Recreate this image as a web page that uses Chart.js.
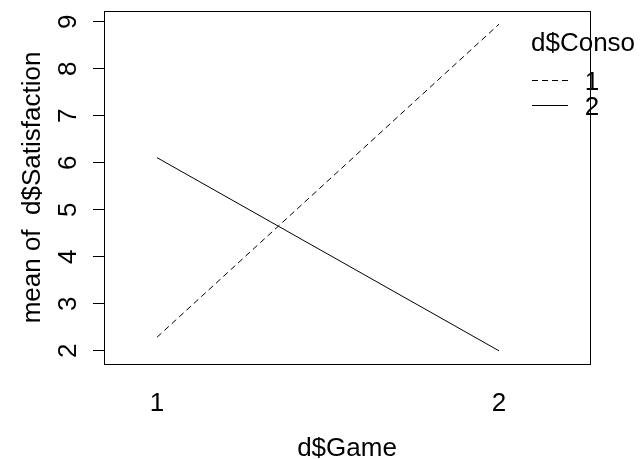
<!DOCTYPE html>
<html>
<head>
<meta charset="utf-8">
<script src="https://cdn.jsdelivr.net/npm/chart.js@4"></script>
<style>
  html, body { margin: 0; padding: 0; background: #fff; }
  #wrap { width: 641px; height: 459px; }
</style>
</head>
<body>
<div id="wrap"><canvas id="chart" width="641" height="459"></canvas></div>
<script>
// interaction plot: mean satisfaction by game, one trace per console
const gameLevels = [1, 2];
const consoleLevels = ['1', '2'];
const console1Means = [2.29, 8.95];
const console2Means = [6.11, 2.0];
const yTickValues = [2, 3, 4, 5, 6, 7, 8, 9];
const legendTitle = 'd$Conso';

const FONT = 'Liberation Sans, Arial, sans-serif';
const FSIZE = 26;

function toPoints(vals) {
    return gameLevels.map((g, i) => ({ x: g, y: vals[i] }));
}

// frame around the plot region, like R's box()
const boxPlugin = {
    id: 'box',
    afterDraw(chart) {
        const a = chart.chartArea;
        const ctx = chart.ctx;
        ctx.save();
        ctx.strokeStyle = '#000';
        ctx.lineWidth = 1;
        ctx.strokeRect(Math.round(a.left) + 0.5, Math.round(a.top) + 0.5,
            Math.round(a.right - a.left), Math.round(a.bottom - a.top));
        ctx.restore();
    }
};

// R style legend with trace label on top (drawn outside the plot, xpd=TRUE)
const traceLegend = {
    id: 'traceLegend',
    afterDraw(chart) {
        const ctx = chart.ctx;
        ctx.save();
        ctx.fillStyle = '#000';
        ctx.font = FSIZE + 'px ' + FONT;
        ctx.textBaseline = 'middle';
        ctx.textAlign = 'left';
        ctx.fillText(legendTitle, 531, 44);
        chart.data.datasets.forEach((ds, i) => {
            const y = 80 + i * 25;
            ctx.strokeStyle = '#000';
            ctx.lineWidth = 1;
            ctx.setLineDash(ds.borderDash || []);
            ctx.beginPath();
            ctx.moveTo(532, y + 0.5);
            ctx.lineTo(568, y + 0.5);
            ctx.stroke();
            ctx.setLineDash([]);
            ctx.textAlign = 'center';
            ctx.fillText(ds.label, 592, y + 3);
        });
        ctx.restore();
    }
};

function noPad(scale) {
    scale.paddingTop = 0;
    scale.paddingBottom = 0;
    scale.paddingLeft = 0;
    scale.paddingRight = 0;
}

new Chart(document.getElementById('chart'), {
    type: 'line',
    data: {
        datasets: [
            {
                label: consoleLevels[0],
                data: toPoints(console1Means),
                borderColor: '#000',
                borderWidth: 1,
                borderDash: [6, 4],
                pointRadius: 0,
                fill: false
            },
            {
                label: consoleLevels[1],
                data: toPoints(console2Means),
                borderColor: '#000',
                borderWidth: 1,
                pointRadius: 0,
                fill: false
            }
        ]
    },
    options: {
        responsive: false,
        animation: false,
        layout: { padding: { top: 11, right: 51, left: 0, bottom: 0 } },
        plugins: {
            legend: { display: false },
            tooltip: { enabled: false }
        },
        scales: {
            x: {
                type: 'linear',
                min: 0.845,
                max: 2.266,
                afterBuildTicks: scale => { scale.ticks = gameLevels.map(v => ({ value: v })); },
                afterFit: scale => { scale.height = 95; noPad(scale); },
                grid: { display: false, drawTicks: false },
                border: { display: false },
                ticks: {
                    color: '#000',
                    font: { family: FONT, size: FSIZE },
                    padding: 24,
                    maxRotation: 0,
                    autoSkip: false
                },
                title: {
                    display: true,
                    text: 'd$Game',
                    color: '#000',
                    font: { family: FONT, size: FSIZE, lineHeight: 1 },
                    padding: { top: 0, bottom: -3 }
                }
            },
            y: {
                type: 'linear',
                min: 1.72,
                max: 9.23,
                afterBuildTicks: scale => { scale.ticks = yTickValues.map(v => ({ value: v })); },
                afterFit: scale => { scale.width = 104; noPad(scale); },
                grid: {
                    drawOnChartArea: false,
                    drawTicks: true,
                    tickLength: 11,
                    color: '#000'
                },
                border: { display: false },
                ticks: {
                    color: '#000',
                    font: { family: FONT, size: FSIZE },
                    padding: 17,
                    minRotation: 90,
                    maxRotation: 90,
                    crossAlign: 'center',
                    autoSkip: false
                },
                title: {
                    display: true,
                    text: 'mean of  d$Satisfaction',
                    color: '#000',
                    font: { family: FONT, size: FSIZE, lineHeight: 1 },
                    padding: { top: 20, bottom: 0 }
                }
            }
        }
    },
    plugins: [boxPlugin, traceLegend]
});
</script>
</body>
</html>
